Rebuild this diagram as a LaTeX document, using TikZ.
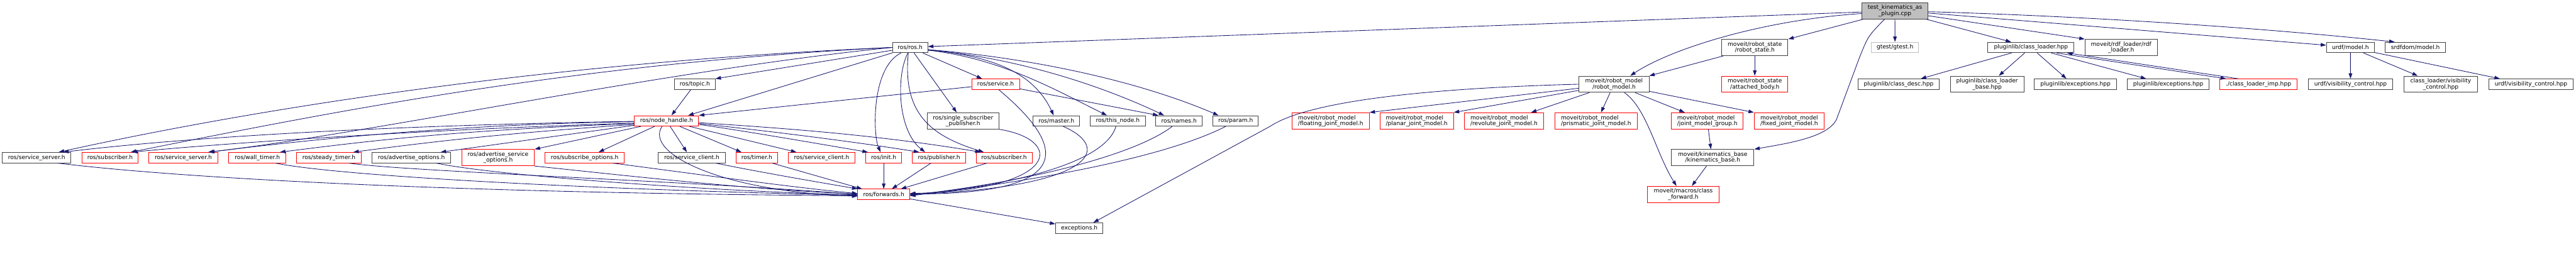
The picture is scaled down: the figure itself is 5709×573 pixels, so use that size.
\documentclass[tikz,border=0pt]{standalone}
\usepackage{fontspec}
\setmainfont{DejaVu Sans}
\usetikzlibrary{arrows.meta}
\definecolor{edgeblue}{HTML}{191970}
\definecolor{hdrline}{HTML}{404040}
\definecolor{rootfill}{HTML}{BFBFBF}
\definecolor{ghostline}{HTML}{BFBFBF}
\definecolor{truncred}{HTML}{FF0000}

\begin{document}
\begin{tikzpicture}[
    x=1pt, y=-1pt,
    hdr/.style={draw=hdrline, fill=white, line width=1.4pt, inner sep=0pt,
                minimum height=23pt, align=center, text=black,
                font=\fontsize{12.7pt}{13pt}\selectfont},
    trunc/.style={hdr, draw=truncred},
    tall/.style={minimum height=36pt},
    arr/.style={-{Triangle[length=12pt,width=8pt]}, line width=1.2pt, color=edgeblue}
  ]
  \useasboundingbox (0,0) rectangle (5709,573);

  % row 0 and 1
  \node[hdr, tall, minimum width=147pt, fill=rootfill] (test) at (4199.5,24) {test\_kinematics\_as\\\_plugin.cpp};
  \node[hdr, minimum width=78pt] (rosh) at (2017,105.2) {ros/ros.h};
  \node[hdr, tall, minimum width=147pt] (robstate) at (3889,105.3) {moveit/robot\_state\\/robot\_state.h};
  \node[hdr, draw=ghostline, minimum width=104pt] (gtest) at (4199.7,105.2) {gtest/gtest.h};
  \node[hdr, minimum width=191pt] (classloader) at (4501,105.2) {pluginlib/class\_loader.hpp};
  \node[hdr, tall, minimum width=160pt] (rdfloader) at (4700.8,105.3) {moveit/rdf\_loader/rdf\\\_loader.h};
  \node[hdr, minimum width=106pt] (urdfmodel) at (5209,105.2) {urdf/model.h};
  \node[hdr, minimum width=134pt] (srdfmodel) at (5353,105.2) {srdfdom/model.h};

  % row 2
  \node[hdr, minimum width=90pt] (topic) at (1540,186.7) {ros/topic.h};
  \node[trunc, minimum width=106pt] (service) at (2206.5,186.7) {ros/service.h};
  \node[hdr, tall, minimum width=155pt] (robmodel) at (3577,186.7) {moveit/robot\_model\\/robot\_model.h};
  \node[trunc, tall, minimum width=147pt] (attached) at (3889,186.7) {moveit/robot\_state\\/attached\_body.h};
  \node[hdr, minimum width=180pt] (classdesc) at (4207.8,186.7) {pluginlib/class\_desc.hpp};
  \node[hdr, tall, minimum width=163pt] (clbase) at (4403.8,186.7) {pluginlib/class\_loader\\\_base.hpp};
  \node[hdr, minimum width=182pt] (pexcA) at (4599.7,186.7) {pluginlib/exceptions.hpp};
  \node[hdr, minimum width=182pt] (pexcB) at (4805.3,186.7) {pluginlib/exceptions.hpp};
  \node[trunc, minimum width=171pt] (climp) at (5005.2,186.7) {./class\_loader\_imp.hpp};
  \node[hdr, minimum width=188pt] (urdfvisA) at (5209.2,186.7) {urdf/visibility\_control.hpp};
  \node[hdr, tall, minimum width=163pt] (clvis) at (5409.2,186.7) {class\_loader/visibility\\\_control.hpp};
  \node[hdr, minimum width=188pt] (urdfvisB) at (5609.2,186.7) {urdf/visibility\_control.hpp};

  % row 3
  \node[trunc, minimum width=142pt] (nodehandle) at (1477.2,268) {ros/node\_handle.h};
  \node[hdr, tall, minimum width=159pt] (ssp) at (2134.3,268) {ros/single\_subscriber\\\_publisher.h};
  \node[hdr, minimum width=103pt] (master) at (2341.2,268) {ros/master.h};
  \node[hdr, minimum width=122pt] (thisnode) at (2477.2,268) {ros/this\_node.h};
  \node[hdr, minimum width=103pt] (names) at (2613,268) {ros/names.h};
  \node[hdr, minimum width=100pt] (param) at (2738.5,268) {ros/param.h};
  \node[trunc, tall, align=left, minimum width=171pt] (floating) at (2949,268) {moveit/robot\_model\\/floating\_joint\_model.h};
  \node[trunc, tall, align=left, minimum width=163pt] (planar) at (3139.7,268) {moveit/robot\_model\\/planar\_joint\_model.h};
  \node[trunc, tall, align=left, minimum width=176pt] (revolute) at (3333.2,268) {moveit/robot\_model\\/revolute\_joint\_model.h};
  \node[trunc, tall, align=left, minimum width=183pt] (prismatic) at (3537.2,268) {moveit/robot\_model\\/prismatic\_joint\_model.h};
  \node[trunc, tall, align=left, minimum width=159pt] (jmg) at (3783.7,268) {moveit/robot\_model\\/joint\_model\_group.h};
  \node[trunc, tall, align=left, minimum width=155pt] (fixed) at (3965.2,268) {moveit/robot\_model\\/fixed\_joint\_model.h};

  % row 4
  \node[hdr, minimum width=152pt] (svcsrvA) at (81.2,349.5) {ros/service\_server.h};
  \node[trunc, minimum width=124pt] (subA) at (243.8,349.5) {ros/subscriber.h};
  \node[trunc, minimum width=152pt] (svcsrvB) at (406.3,349.5) {ros/service\_server.h};
  \node[trunc, minimum width=127pt] (walltimer) at (570.5,349.5) {ros/wall\_timer.h};
  \node[trunc, minimum width=143pt] (steadytimer) at (729,349.5) {ros/steady\_timer.h};
  \node[hdr, minimum width=175pt] (advopts) at (911.7,349.5) {ros/advertise\_options.h};
  \node[trunc, tall, minimum width=161pt] (advsvcopts) at (1103.8,349.5) {ros/advertise\_service\\\_options.h};
  \node[trunc, minimum width=175pt] (subopts) at (1295.8,349.5) {ros/subscribe\_options.h};
  \node[hdr, minimum width=148pt] (svccliA) at (1533.2,349.5) {ros/service\_client.h};
  \node[trunc, minimum width=92pt] (timer) at (1677.2,349.5) {ros/timer.h};
  \node[trunc, minimum width=148pt] (svccliB) at (1821,349.5) {ros/service\_client.h};
  \node[trunc, minimum width=79pt] (init) at (1958.5,349.5) {ros/init.h};
  \node[trunc, minimum width=118pt] (publisher) at (2081.2,349.5) {ros/publisher.h};
  \node[trunc, minimum width=124pt] (subB) at (2225.2,349.5) {ros/subscriber.h};
  \node[hdr, tall, minimum width=183pt] (kinbase) at (3795.7,349.5) {moveit/kinematics\_base\\/kinematics\_base.h};

  % row 5 and 6
  \node[trunc, minimum width=115pt] (forwards) at (1958.5,431) {ros/forwards.h};
  \node[trunc, tall, minimum width=158pt] (classfwd) at (3730.5,431) {moveit/macros/class\\\_forward.h};
  \node[hdr, minimum width=105pt] (exceptions) at (2392,505.7) {exceptions.h};

  % test_kinematics_as_plugin.cpp
  \draw[arr] (test) -- ([yshift=2pt]rosh.east);
  \draw[arr] ([yshift=-6pt]test.west) .. controls (3900,45) and (3700,110) .. ([xshift=36pt]robmodel.north);
  \draw[arr] (test) -- (robstate.north east);
  \draw[arr] (test) -- (gtest);
  \draw[arr] ([xshift=-23pt]test.south) .. controls (4140,80) .. (4120,130) -- (4070,265) .. controls (4050,305) and (3960,318) .. (kinbase.north east);
  \draw[arr] (test) -- ([xshift=-44pt]classloader.north);
  \draw[arr] (test) -- (rdfloader.north west);
  \draw[arr] ([yshift=-5pt]test.east) -- ([yshift=5pt]urdfmodel.west);
  \draw[arr] ([yshift=-2pt]test.east) .. controls (4600,35) and (5000,60) .. ([xshift=-46pt]srdfmodel.north);

  % ros/ros.h
  \draw[arr] (rosh.west) .. controls +(-700,30) and +(500,-110) .. ([xshift=49pt]svcsrvA.north);
  \draw[arr] (rosh.west) .. controls +(-700,35) and +(450,-90) .. ([xshift=46pt]subA.north);
  \draw[arr] (rosh.west) .. controls +(-500,50) and +(350,-40) .. ([xshift=55pt]svcsrvB.north);
  \draw[arr] (rosh) -- (topic.north east);
  \draw[arr] (rosh) -- ([xshift=48pt]nodehandle.north);
  \draw[arr] ([xshift=-20pt]rosh.south) .. controls (1930,150) and (1935,300) .. ([xshift=-7pt]init.north);
  \draw[arr] ([xshift=-5pt]rosh.south) .. controls (1985,170) and (1990,290) .. ([xshift=-31pt]publisher.north);
  \draw[arr] ([xshift=-4pt]rosh.south) .. controls (2000,250) and (2060,300) .. ([xshift=-45pt]subB.north);
  \draw[arr] (rosh) -- ([xshift=-14pt]ssp.north);
  \draw[arr] (rosh) -- ([xshift=-30pt]service.north);
  \draw[arr] ([yshift=-5pt]rosh.east) .. controls (2200,125) and (2290,160) .. ([xshift=-6pt]master.north);
  \draw[arr] ([yshift=-6pt]rosh.east) .. controls (2220,130) and (2340,200) .. ([xshift=-24pt]thisnode.north);
  \draw[arr] ([yshift=-6pt]rosh.east) .. controls (2230,125) and (2420,180) .. ([xshift=-33pt]names.north);
  \draw[arr] ([yshift=-5pt]rosh.east) .. controls (2250,125) and (2500,170) .. ([xshift=-38pt]param.north);

  % ros/service.h, ros/topic.h
  \draw[arr] (service) -- (nodehandle.north east);
  \draw[arr] (service) -- ([xshift=-46pt]names.north);
  \draw[arr] ([xshift=7pt]service.south) .. controls (2370,330) and (2380,430) .. ([yshift=1pt]forwards.east);
  \draw[arr] (topic) -- ([xshift=11pt]nodehandle.north);

  % ros/node_handle.h
  \draw[arr] ([yshift=-1pt]nodehandle.west) .. controls +(-600,10) and +(250,-30) .. ([xshift=59pt]svcsrvA.north);
  \draw[arr] ([yshift=-5pt]nodehandle.west) .. controls +(-500,15) and +(150,-15) .. ([xshift=49pt]subA.north);
  \draw[arr] ([yshift=-2pt]nodehandle.west) .. controls +(-400,5) and +(200,-25) .. ([xshift=57pt]svcsrvB.north);
  \draw[arr] ([yshift=-6pt]nodehandle.west) .. controls +(-400,15) and +(200,-25) .. ([xshift=50pt]walltimer.north);
  \draw[arr] ([yshift=-8pt]nodehandle.west) .. controls +(-300,20) and +(150,-20) .. ([xshift=54pt]steadytimer.north);
  \draw[arr] (nodehandle) -- ([xshift=65pt]advopts.north);
  \draw[arr] (nodehandle) -- (advsvcopts.north east);
  \draw[arr] (nodehandle) -- ([xshift=31pt]subopts.north);
  \draw[arr] (nodehandle) -- ([xshift=-11pt]svccliA.north);
  \draw[arr] (nodehandle) -- ([xshift=-34pt]timer.north);
  \draw[arr] (nodehandle) -- ([xshift=-56pt]svccliB.north);
  \draw[arr] ([yshift=-8pt]nodehandle.east) .. controls (1650,290) and (1850,325) .. ([xshift=-35pt]init.north);
  \draw[arr] ([yshift=-6pt]nodehandle.east) .. controls (1700,290) and (1900,315) .. ([xshift=-44pt]publisher.north);
  \draw[arr] ([yshift=-4pt]nodehandle.east) .. controls (1750,285) and (1950,300) .. ([xshift=-52pt]subB.north);
  \draw[arr] ([xshift=-10pt]nodehandle.south) .. controls +(-40,60) and +(-300,-10) .. ([yshift=-4pt]forwards.west);

  % headers into ros/forwards.h
  \draw[arr] ([xshift=47pt]svcsrvA.south) .. controls (400,395) and (1000,428) .. ([yshift=-3pt]forwards.west);
  \draw[arr] ([xshift=40pt]walltimer.south) .. controls (750,390) and (1300,420) .. ([yshift=-2pt]forwards.west);
  \draw[arr] ([xshift=44pt]steadytimer.south) .. controls (900,380) and (1500,400) .. (forwards.west);
  \draw[arr] ([xshift=55pt]advopts.south) .. controls (1100,390) and (1600,425) .. ([yshift=-1pt]forwards.west);
  \draw[arr] (advsvcopts.south east) .. controls (1350,385) and (1650,420) .. ([yshift=1pt]forwards.west);
  \draw[arr] ([xshift=62pt]subopts.south) .. controls (1500,380) and (1750,415) .. ([yshift=2pt]forwards.west);
  \draw[arr] ([xshift=53pt]svccliA.south) .. controls (1700,385) and (1850,410) .. (forwards.north west);
  \draw[arr] ([xshift=34pt]timer.south) -- ([xshift=-48pt]forwards.north);
  \draw[arr] (init) -- (forwards);
  \draw[arr] ([xshift=-18pt]publisher.south) -- ([xshift=18pt]forwards.north);
  \draw[arr] ([xshift=-38pt]subB.south) -- ([xshift=38pt]forwards.north);
  \draw[arr] (ssp.south east) .. controls (2360,310) and (2350,420) .. ([yshift=2pt]forwards.east);
  \draw[arr] ([xshift=15pt]master.south) .. controls (2470,330) and (2420,415) .. (forwards.east);
  \draw[arr] ([xshift=-4pt]thisnode.south) .. controls (2450,360) and (2250,410) .. ([yshift=-1pt]forwards.east);
  \draw[arr] ([xshift=-15pt]names.south) .. controls (2520,340) and (2300,400) .. ([yshift=-2pt]forwards.east);
  \draw[arr] ([xshift=-22pt]param.south) .. controls (2600,340) and (2350,395) .. ([yshift=-3pt]forwards.east);
  \draw[arr] (forwards) -- (exceptions);

  % moveit
  \draw[arr] (robstate) -- (attached);
  \draw[arr] (robstate) -- (robmodel.north east);
  \draw[arr] (robmodel.west) .. controls (3000,200) and (2860,250) .. (2815,280) -- ([xshift=31pt]exceptions.north);
  \draw[arr] (robmodel) -- (floating.north east);
  \draw[arr] (robmodel) -- (planar.north east);
  \draw[arr] (robmodel) -- ([xshift=60pt]revolute.north);
  \draw[arr] (robmodel) -- ([xshift=11pt]prismatic.north);
  \draw[arr] (robmodel) -- ([xshift=-50pt]jmg.north);
  \draw[arr] (robmodel) -- (fixed.north west);
  \draw[arr] ([xshift=23pt]robmodel.south) .. controls (3650,240) and (3670,340) .. ([xshift=-15pt]classfwd.north);
  \draw[arr] (jmg) -- ([xshift=-4pt]kinbase.north);
  \draw[arr] (kinbase) -- ([xshift=19pt]classfwd.north);

  % pluginlib and urdf
  \draw[arr] (classloader) -- ([xshift=49pt]classdesc.north);
  \draw[arr] (classloader) -- ([xshift=26pt]clbase.north);
  \draw[arr] (classloader) -- ([xshift=-20pt]pexcA.north);
  \draw[arr] (classloader) -- ([xshift=-49pt]pexcB.north);
  \draw[arr] ([xshift=57pt]classloader.south) -- ([xshift=-72pt]climp.north);
  \draw[arr] ([xshift=-45pt]climp.north) -- ([xshift=-16pt]classloader.south east);
  \draw[arr] (urdfmodel) -- (urdfvisA);
  \draw[arr] (urdfmodel) -- ([xshift=-51pt]clvis.north);
  \draw[arr] (urdfmodel) -- ([xshift=-69pt]urdfvisB.north);
\end{tikzpicture}
\end{document}
